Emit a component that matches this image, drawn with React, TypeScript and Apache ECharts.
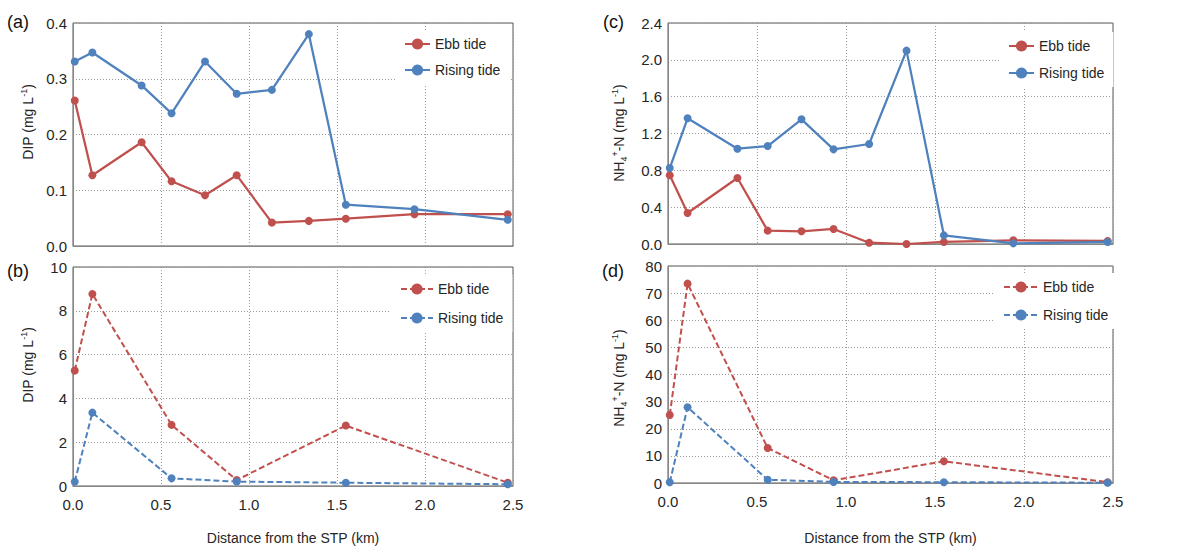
import React, { useEffect, useRef } from "react";
import * as echarts from "echarts";

// Sampling distances (km)
const distances = [0.01, 0.11, 0.39, 0.56, 0.75, 0.93, 1.13, 1.34, 1.55, 1.94, 2.47];
const stpDistances = [0.01, 0.11, 0.56, 0.93, 1.55, 2.47];

// (a) DIP, estuary
const dipEbbA = [0.261, 0.127, 0.186, 0.116, 0.091, 0.127, 0.042, 0.045, 0.049, 0.057, 0.057];
const dipRisingA = [0.331, 0.347, 0.288, 0.238, 0.331, 0.273, 0.28, 0.38, 0.074, 0.066, 0.047];
// (b) DIP, STP
const dipEbbB = [5.27, 8.77, 2.79, 0.27, 2.76, 0.15];
const dipRisingB = [0.2, 3.35, 0.35, 0.2, 0.15, 0.08];
// (c) NH4+-N, estuary
const nhEbbC = [0.746, 0.337, 0.717, 0.145, 0.138, 0.163, 0.014, 0.0, 0.022, 0.04, 0.033];
const nhRisingC = [0.825, 1.365, 1.035, 1.064, 1.354, 1.028, 1.086, 2.1, 0.094, 0.007, 0.022];
// (d) NH4+-N, STP
const nhEbbD = [25.1, 73.5, 12.9, 1.0, 8.0, 0.3];
const nhRisingD = [0.3, 27.9, 1.2, 0.4, 0.3, 0.1];

const xTicks = [0, 0.5, 1.0, 1.5, 2.0, 2.5];
const panelLabels = ["(a)", "(b)", "(c)", "(d)"];

const RED = "#C0504D";
const BLUE = "#4F81BD";
const FONT = "'Liberation Sans', Arial, sans-serif";
const TXT = "#262626";

const pairs = (xs: number[], ys: number[]) => xs.map((x, i) => [x, ys[i]]);

export default function App() {
  const ref = useRef<HTMLDivElement>(null);
  useEffect(() => {
    if (!ref.current) return;
    const chart = echarts.init(ref.current, null, { renderer: "svg" });

    const grids = [
      { left: 73, top: 23, width: 440, height: 223 },
      { left: 73, top: 267, width: 440, height: 219 },
      { left: 668, top: 23, width: 445, height: 221 },
      { left: 668, top: 266, width: 445, height: 217 },
    ].map((g) => ({ ...g, show: true, borderColor: "#595959", borderWidth: 1, backgroundColor: "transparent" }));

    const yCfg = [
      { min: 0, max: 0.4, interval: 0.1, dec: 1 },
      { min: 0, max: 10, interval: 2, dec: 0 },
      { min: 0, max: 2.4, interval: 0.4, dec: 1 },
      { min: 0, max: 80, interval: 10, dec: 0 },
    ];

    const xAxis = grids.map((_, i) => ({
      type: "value",
      gridIndex: i,
      min: xTicks[0],
      max: xTicks[xTicks.length - 1],
      interval: 0.5,
      axisLine: { show: true, lineStyle: { color: "#868686", width: 1 } },
      axisTick: { show: false },
      axisLabel: {
        show: i === 1 || i === 3,
        formatter: (v: number) => v.toFixed(1),
        color: TXT,
        fontSize: 15,
        fontFamily: FONT,
        margin: 11,
      },
      splitLine: { show: true, lineStyle: { color: "#9a9a9a", type: [1, 2], width: 1 } },
      name: i === 1 || i === 3 ? "Distance from the STP (km)" : "",
      nameLocation: "middle",
      nameGap: i === 1 ? 45 : 48,
      nameTextStyle: { color: TXT, fontSize: 14, fontFamily: FONT },
    }));

    const yAxis = yCfg.map((c, i) => ({
      type: "value",
      gridIndex: i,
      min: c.min,
      max: c.max,
      interval: c.interval,
      axisLine: { show: true, lineStyle: { color: "#868686", width: 1 } },
      axisTick: { show: false },
      axisLabel: {
        formatter: (v: number) => v.toFixed(c.dec),
        color: TXT,
        fontSize: 15,
        fontFamily: FONT,
        margin: 6,
      },
      splitLine: { show: true, lineStyle: { color: "#9a9a9a", type: [1, 2], width: 1 } },
    }));

    const mk = (name: string, idx: number, xs: number[], ys: number[], color: string, dashed: boolean) => ({
      type: "line",
      name,
      xAxisIndex: idx,
      yAxisIndex: idx,
      data: pairs(xs, ys),
      symbol: "circle",
      symbolSize: 8,
      showSymbol: true,
      itemStyle: { color },
      lineStyle: { color, width: dashed ? 2 : 2.25, type: dashed ? [6, 3] : "solid" },
      emphasis: { disabled: true },
    });

    const series = [
      mk("Ebb tide#a", 0, distances, dipEbbA, RED, false),
      mk("Rising tide#a", 0, distances, dipRisingA, BLUE, false),
      mk("Ebb tide#b", 1, stpDistances, dipEbbB, RED, true),
      mk("Rising tide#b", 1, stpDistances, dipRisingB, BLUE, true),
      mk("Ebb tide#c", 2, distances, nhEbbC, RED, false),
      mk("Rising tide#c", 2, distances, nhRisingC, BLUE, false),
      mk("Ebb tide#d", 3, stpDistances, nhEbbD, RED, true),
      mk("Rising tide#d", 3, stpDistances, nhRisingD, BLUE, true),
    ];

    const legendPos = [
      { key: "a", left: 395, top: 30, itemWidth: 25, gap: 12 },
      { key: "b", left: 391, top: 275, itemWidth: 32, gap: 15 },
      { key: "c", left: 999, top: 32, itemWidth: 25, gap: 13 },
      { key: "d", left: 994, top: 273, itemWidth: 34, gap: 14 },
    ];
    const legend = legendPos.map((l) => ({
      data: ["Ebb tide#" + l.key, "Rising tide#" + l.key],
      orient: "vertical",
      left: l.left,
      top: l.top,
      itemWidth: l.itemWidth,
      itemHeight: 14,
      itemGap: l.gap,
      padding: [7, 9, 7, 9],
      backgroundColor: "#ffffff",
      selectedMode: false,
      formatter: (n: string) => n.split("#")[0],
      textStyle: { color: TXT, fontSize: 14, fontFamily: FONT },
    }));

    const rich = {
      n: { fontSize: 14, fontFamily: FONT, color: TXT, lineHeight: 18, verticalAlign: "middle" },
      sup: { fontSize: 9, fontFamily: FONT, color: TXT, lineHeight: 18, verticalAlign: "top" },
      sub: { fontSize: 9, fontFamily: FONT, color: TXT, lineHeight: 18, verticalAlign: "bottom" },
    };
    const yName = (text: string, x: number, y: number) => ({
      type: "text",
      x,
      y,
      rotation: Math.PI / 2,
      style: { text, rich, align: "center", verticalAlign: "middle", fill: TXT, fontSize: 14, fontFamily: FONT },
    });
    const dipText = "{n|DIP (mg L}{sup|-1}{n|)}";
    const nhText = "{n|NH}{sub|4}{sup|+}{n|-N (mg L}{sup|-1}{n|)}";

    const panelPos = [
      [7, 13],
      [7, 262],
      [603, 13],
      [602, 262],
    ];
    const graphic = [
      ...panelLabels.map((t, i) => ({
        type: "text",
        x: panelPos[i][0],
        y: panelPos[i][1],
        style: { text: t, fill: "#111", fontSize: 18, fontFamily: FONT },
      })),
      yName(dipText, 28, 122),
      yName(dipText, 28, 365),
      yName(nhText, 619, 133),
      yName(nhText, 619, 378),
    ];

    chart.setOption({
      animation: false,
      backgroundColor: "#ffffff",
      grid: grids,
      xAxis,
      yAxis,
      legend,
      series,
      graphic,
    } as any);

    return () => chart.dispose();
  }, []);

  return (
    <div
      ref={ref}
      style={{ position: "fixed", left: 0, top: 0, width: 1196, height: 546, background: "#fff" }}
    />
  );
}
